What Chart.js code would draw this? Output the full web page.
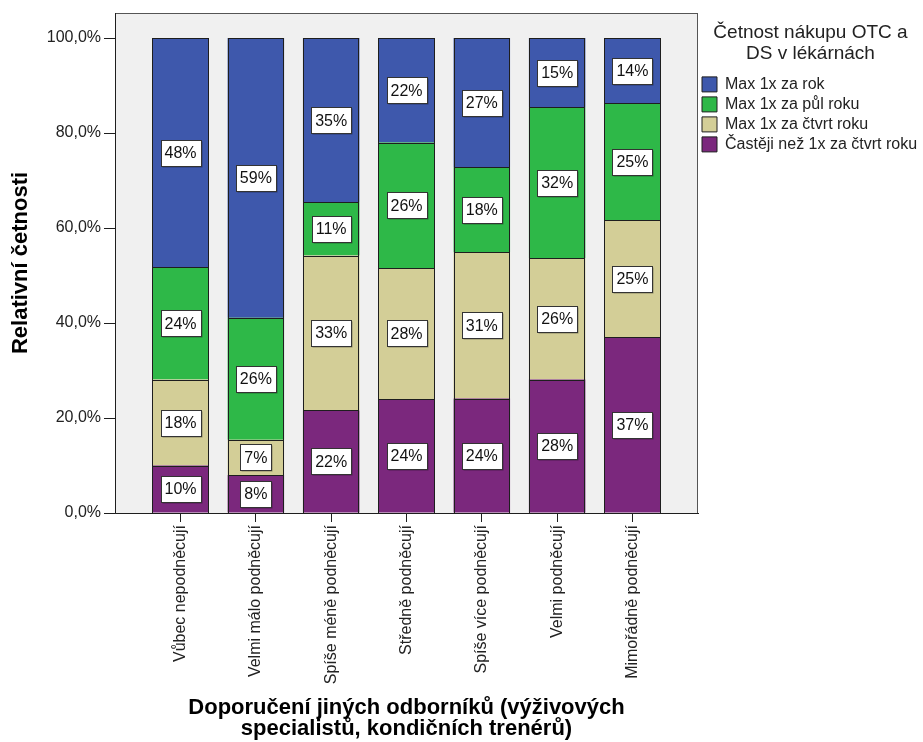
<!DOCTYPE html>
<html>
<head>
<meta charset="utf-8">
<script src="https://cdn.jsdelivr.net/npm/chart.js@4/dist/chart.umd.min.js"></script>
<style>
  html, body { margin: 0; padding: 0; background: #ffffff; }
  #wrap { width: 923px; height: 742px; position: relative; }
</style>
</head>
<body>
<div id="wrap"><canvas id="chart"></canvas></div>
<script>
// Categories on the x axis
const categories = [
  'Vůbec nepodněcují',
  'Velmi málo podněcují',
  'Spíše méně podněcují',
  'Středně podněcují',
  'Spíše více podněcují',
  'Velmi podněcují',
  'Mimořádně podněcují'
];

// Series names (legend order, top to bottom)
const seriesNames = [
  'Max 1x za rok',
  'Max 1x za půl roku',
  'Max 1x za čtvrt roku',
  'Častěji než 1x za čtvrt roku'
];

// Relative frequencies in percent, per category
const maxRok        = [48.3, 58.9, 34.6, 22.0, 27.2, 14.6, 13.7];
const maxPulRoku    = [23.6, 25.7, 11.2, 26.4, 17.9, 31.7, 24.7];
const maxCtvrtRoku  = [18.1,  7.4, 32.6, 27.6, 30.8, 25.6, 24.6];
const castejiNez    = [10.0,  8.0, 21.6, 24.0, 24.1, 28.1, 37.0];

// Y axis tick values
const yTicks = [0, 20, 40, 60, 80, 100];

const FONT = '"Liberation Sans", Arial, sans-serif';
const TEXT = '#222222';
const EDGE = '#1e1e1e';

const toPoints = arr => arr.map((v, i) => ({ x: i, y: v }));

// Stacked bottom to top; outlines are stroked by the segmentOutlines plugin
const datasets = [
  { label: seriesNames[3], data: toPoints(castejiNez),   backgroundColor: '#7B287D' },
  { label: seriesNames[2], data: toPoints(maxCtvrtRoku), backgroundColor: '#D3CE97' },
  { label: seriesNames[1], data: toPoints(maxPulRoku),   backgroundColor: '#2EB848' },
  { label: seriesNames[0], data: toPoints(maxRok),       backgroundColor: '#3E58AC' }
].map(d => Object.assign(d, { borderColor: EDGE, borderWidth: 0, inflateAmount: 0 }));

// Grey plot background and frame
const plotFrame = {
  id: 'plotFrame',
  beforeDraw(chart) {
    const { ctx, chartArea: a } = chart;
    ctx.save();
    ctx.fillStyle = '#ffffff';
    ctx.fillRect(0, 0, chart.width, chart.height);
    ctx.fillStyle = '#F0F0F0';
    ctx.fillRect(a.left, a.top, a.right - a.left, a.bottom - a.top);
    ctx.restore();
  },
  afterDatasetsDraw(chart) {
    const { ctx, chartArea: a } = chart;
    ctx.save();
    ctx.lineWidth = 1;
    // crisp outline around every bar segment
    ctx.strokeStyle = EDGE;
    chart.data.datasets.forEach((ds, di) => {
      chart.getDatasetMeta(di).data.forEach(bar => {
        const { x, y, base, width } = bar.getProps(['x', 'y', 'base', 'width'], true);
        const l = Math.round(x - width / 2), r = Math.round(x + width / 2);
        const t = Math.round(Math.min(y, base)), b = Math.round(Math.max(y, base));
        ctx.strokeRect(l + 0.5, t + 0.5, r - l - 1, b - t);
      });
    });
    ctx.strokeStyle = '#555555';
    ctx.strokeRect(Math.round(a.left) + 0.5, Math.round(a.top) + 0.5,
                   Math.round(a.right - a.left) - 1, Math.round(a.bottom - a.top));
    ctx.strokeStyle = EDGE;
    ctx.beginPath();
    ctx.moveTo(Math.round(a.left) + 0.5, Math.round(a.top));
    ctx.lineTo(Math.round(a.left) + 0.5, Math.round(a.bottom) + 0.5);
    ctx.lineTo(Math.round(a.right), Math.round(a.bottom) + 0.5);
    ctx.stroke();
    ctx.restore();
  }
};

// Boxed percentage label in the middle of every segment
const segmentLabels = {
  id: 'segmentLabels',
  afterDatasetsDraw(chart) {
    const ctx = chart.ctx;
    ctx.save();
    ctx.font = '16px ' + FONT;
    ctx.textAlign = 'center';
    ctx.textBaseline = 'middle';
    chart.data.datasets.forEach((ds, di) => {
      const meta = chart.getDatasetMeta(di);
      meta.data.forEach((bar, i) => {
        const text = Math.round(ds.data[i].y) + '%';
        const cx = bar.x;
        const cy = (bar.y + bar.base) / 2;
        const w = Math.round(ctx.measureText(text).width) + 8;
        const h = 26;
        const x0 = Math.round(cx - w / 2) + 0.5;
        const y0 = Math.round(cy - h / 2) + 0.5;
        ctx.fillStyle = 'rgba(0,0,0,0.35)';
        ctx.fillRect(x0 + 1, y0 + 1, w, h);
        ctx.fillStyle = '#ffffff';
        ctx.fillRect(x0, y0, w, h);
        ctx.strokeStyle = '#333333';
        ctx.lineWidth = 1;
        ctx.strokeRect(x0, y0, w, h);
        ctx.fillStyle = '#111111';
        ctx.fillText(text, cx, cy + 1);
      });
    });
    ctx.restore();
  }
};

new Chart(document.getElementById('chart'), {
  type: 'bar',
  data: { datasets },
  options: {
    responsive: true,
    maintainAspectRatio: false,
    devicePixelRatio: 1,
    animation: false,
    layout: { padding: { top: 13, right: 0, bottom: 0, left: 0 } },
    datasets: { bar: { categoryPercentage: 0.75, barPercentage: 1 } },
    scales: {
      x: {
        type: 'linear',
        stacked: true,
        offset: false,
        min: -0.87,
        max: categories.length - 1 + 0.87,
        afterBuildTicks: s => { s.ticks = categories.map((_, i) => ({ value: i })); },
        afterFit: s => { s.height = 229; },
        ticks: {
          autoSkip: false,
          minRotation: 90,
          maxRotation: 90,
          padding: 3,
          color: TEXT,
          font: { family: FONT, size: 16 },
          callback: v => categories[v]
        },
        grid: { offset: false, drawOnChartArea: false, drawTicks: true, tickLength: 9, color: EDGE },
        border: { display: true, color: EDGE },
        title: {
          display: true,
          text: ['Doporučení jiných odborníků (výživových', 'specialistů, kondičních trenérů)'],
          color: '#000000',
          font: { family: FONT, size: 22, weight: 'bold', lineHeight: 0.98 },
          padding: { top: 0, bottom: 2 }
        }
      },
      y: {
        stacked: true,
        min: 0,
        max: 100 / 0.95,
        afterBuildTicks: s => { s.ticks = yTicks.map(v => ({ value: v })); },
        afterFit: s => { s.width = 115; },
        ticks: {
          padding: 3,
          color: TEXT,
          font: { family: FONT, size: 16 },
          callback: v => v.toFixed(1).replace('.', ',') + '%'
        },
        grid: { drawOnChartArea: false, drawTicks: true, tickLength: 11, color: EDGE },
        border: { display: true, color: EDGE },
        title: {
          display: true,
          text: 'Relativní četnosti',
          color: '#000000',
          font: { family: FONT, size: 22, weight: 'bold', lineHeight: 1.2 },
          padding: { top: 8, bottom: 0 }
        }
      }
    },
    plugins: {
      tooltip: { enabled: false },
      legend: {
        position: 'right',
        align: 'start',
        reverse: true,
        maxWidth: 225,
        title: {
          display: true,
          text: ['Četnost nákupu OTC a', 'DS v lékárnách'],
          position: 'center',
          color: TEXT,
          font: { family: FONT, size: 19, lineHeight: 1.1 },
          padding: { top: 10, bottom: 28.5 }
        },
        labels: {
          boxWidth: 15,
          boxHeight: 15,
          padding: 4,
          color: TEXT,
          font: { family: FONT, size: 16 },
          generateLabels: chart =>
            Chart.defaults.plugins.legend.labels.generateLabels(chart)
              .map(item => Object.assign(item, { lineWidth: 1, strokeStyle: EDGE }))
        }
      }
    }
  },
  plugins: [plotFrame, segmentLabels]
});
</script>
</body>
</html>
